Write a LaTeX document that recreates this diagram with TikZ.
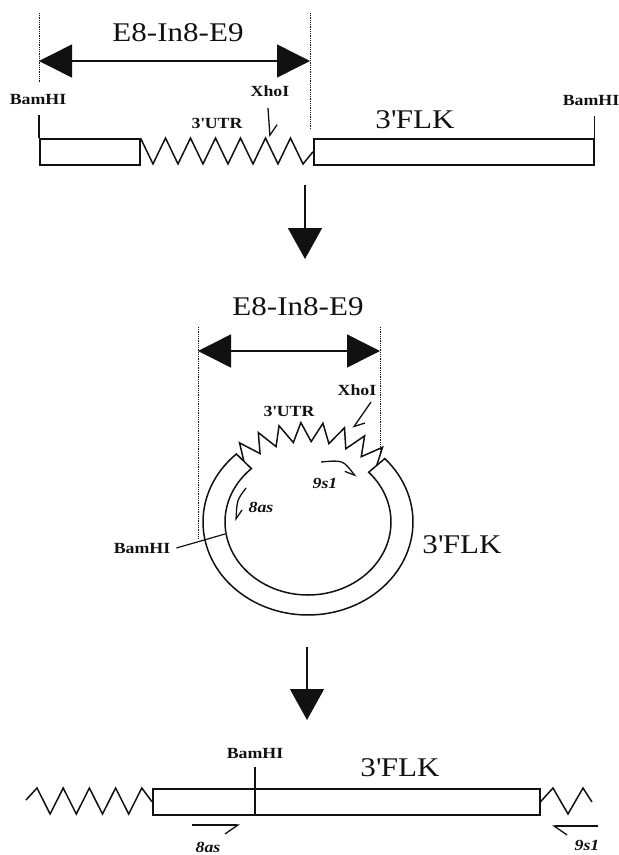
\documentclass[tikz,border=0pt]{standalone}
\usepackage{fontspec}
\setmainfont{Liberation Serif}[FakeStretch=1.15]
\usepackage{xcolor}
\usepackage{tikz}
\usetikzlibrary{arrows.meta}
\definecolor{ink}{HTML}{111111}

\begin{document}
\begin{tikzpicture}[x=1pt, y=-1pt,
  every node/.style={inner sep=0pt, text=ink},
  big/.style={font=\fontsize{27}{30}\selectfont},
  site/.style={font=\fontsize{15.5}{17}\selectfont\bfseries},
  primer/.style={font=\fontsize{15.5}{17}\selectfont\bfseries\itshape},
  seg/.style={draw=ink, line width=1.5pt, fill=white, anchor=north west,
              minimum height=26pt},
  wire/.style={ink, line width=1.5pt},
  guide/.style={ink, densely dotted, line width=0.8pt},
  span/.style={{Triangle[length=33pt,width=33pt]}-{Triangle[length=33pt,width=33pt]},
               ink, line width=1.5pt},
  down/.style={-{Triangle[length=31pt,width=34pt]}, ink, line width=1.5pt},
  barb/.style={-{Straight Barb[#1]}, ink, line width=1.3pt}
]
\useasboundingbox (0,0) rectangle (619,855);

% linear clone
\node[big] (span1) at (178,33) {E8-In8-E9};
\draw[guide] (39,13) -- (39,83);
\draw[guide] (310,13) -- (310,130);
\coordinate (s1l) at (39,61);
\coordinate (s1r) at (310,61);
\draw[span] (s1l) -- (s1r);

\node[seg, minimum width=100pt] (ex8) at (39,138) {};
\node[seg, minimum width=280pt] (flk1) at (313,138) {};
\draw[wire] (ex8.north west) -- ++(0,-23);
\draw[wire] (flk1.north east) -- ++(0,-22);
\draw[wire] (ex8.north east) foreach \i in {1,...,13}{ -- ++(12.5,{mod(\i,2)==1 ? 26 : -26}) }
  -- (flk1.west);

\node[site] (bam1) at (38,99) {BamHI};
\node[site] (bam2) at (591,100) {BamHI};
\node[site] (utr1) at (217,123) {3\textquotesingle UTR};
\node[site] (xho1) at (270,91) {XhoI};
\node[big] (flklab1) at (415,120) {3\textquotesingle FLK};
\coordinate (x1a) at (268,108);
\coordinate (x1b) at (270,137);
\draw[barb={left,length=10pt,width=16pt}] (x1a) -- (x1b);

\coordinate (d1a) at (305,185);
\coordinate (d1b) at (305,259);
\draw[down] (d1a) -- (d1b);

% circular ligation product
\node[big] (span2) at (298,307) {E8-In8-E9};
\draw[guide] (198,327) -- (198,538);
\draw[guide] (380,327) -- (380,453);
\coordinate (s2l) at (198,351);
\coordinate (s2r) at (380,351);
\draw[span] (s2l) -- (s2r);

\draw[wire, fill=white]
  plot[domain=43:-227, samples=90] ({308+105*cos(\x)},{522-93*sin(\x)})
  -- plot[domain=-227:43, samples=90] ({308+83*cos(\x)},{522-73*sin(\x)})
  -- cycle;
\coordinate (ring-l) at ({308+94*cos(133)},{522-83*sin(133)});
\coordinate (ring-r) at ({308+94*cos(43)},{522-83*sin(43)});
\foreach \i in {1,...,15}{
  \pgfmathsetmacro\f{mod(\i,2)==1 ? 1.2 : 0.97}
  \coordinate (utr\i) at ({308+94*\f*cos(133-5.625*\i)},{522-83*\f*sin(133-5.625*\i)});
}
\draw[wire] (ring-l) foreach \i in {1,...,15}{ -- (utr\i) } -- (ring-r);

\node[site] (utr2) at (289,411) {3\textquotesingle UTR};
\node[site] (xho2) at (357,390) {XhoI};
\node[primer] (s9) at (325,483) {9s1};
\node[primer] (a8) at (261,507) {8as};
\node[site] (bam3) at (142,548) {BamHI};
\node[big] (flklab2) at (462,545) {3\textquotesingle FLK};

\coordinate (x2a) at (371,402);
\coordinate (x2b) at (353,428);
\draw[barb={left,length=9pt,width=14pt}] (x2a) -- (x2b);
\coordinate (p9a) at (321,462);
\coordinate (p9b) at (356,477);
\draw[barb={right,length=9pt,width=11pt}] (p9a) .. controls (343,460) .. (p9b);
\coordinate (p8a) at (246,488);
\coordinate (p8b) at (236,521);
\draw[barb={left,length=9pt,width=11pt}] (p8a) .. controls (237,500) .. (p8b);
\coordinate (bamcut) at (225,534);
\draw[wire, line width=1.2pt] ([xshift=6pt]bam3.east) -- (bamcut);

\coordinate (d2a) at (307,647);
\coordinate (d2b) at (307,720);
\draw[down] (d2a) -- (d2b);

% inverse PCR product
\node[seg, minimum width=387pt] (flk3) at (152,788) {};
\coordinate (b3a) at (255,767);
\coordinate (b3b) at (255,815);
\draw[wire] (b3a) -- (b3b);
\draw[wire] (26,800) -- (37,788) foreach \i in {1,...,8}{ -- ++(13.1,{mod(\i,2)==1 ? 26 : -26}) }
  -- (flk3.west);
\draw[wire] (flk3.east) -- (553,788) -- (568,814) -- (583,788) -- (592,802);

\node[site] (bam4) at (255,753) {BamHI};
\node[big] (flklab3) at (400,768) {3\textquotesingle FLK};
\node[primer] (a8b) at (208,847) {8as};
\node[primer] (s9b) at (587,845) {9s1};
\coordinate (q8a) at (192,825);
\coordinate (q8b) at (240,825);
\draw[barb={right,length=13pt,width=18pt}] (q8a) -- (q8b);
\coordinate (q9a) at (598,826);
\coordinate (q9b) at (552,826);
\draw[barb={left,length=13pt,width=18pt}] (q9a) -- (q9b);
\end{tikzpicture}
\end{document}
